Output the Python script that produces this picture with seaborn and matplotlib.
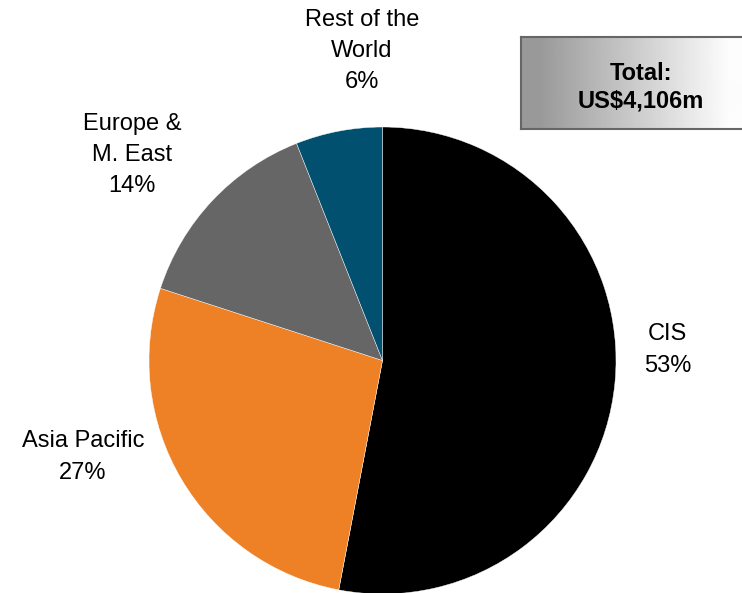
import numpy as np
import matplotlib
matplotlib.use("Agg")
import matplotlib.pyplot as plt
import seaborn as sns

# Revenue split by region (share of total, %)
regions = ["CIS", "Asia Pacific", "Europe &\nM. East", "Rest of the\nWorld"]
shares = [53, 27, 14, 6]
colors = ["#000000", "#EE8126", "#666666", "#01506F"]
total_label = "Total:\nUS$4,106m"

sns.set_theme(style="white")
plt.rcParams["font.family"] = ["Liberation Sans", "DejaVu Sans"]

W, H, DPI = 742, 593, 100
fig = plt.figure(figsize=(W / DPI, H / DPI), dpi=DPI)
fig.patch.set_facecolor("white")

# Pie axes spanning the whole figure; limits chosen so 1 data unit = pie radius
cx, cy, r = 382.5, 360.5, 233.5
ax = fig.add_axes([0, 0, 1, 1])
wedges, _ = ax.pie(
    shares,
    colors=colors,
    startangle=90,
    counterclock=False,
    radius=1.0,
    center=(0, 0),
    wedgeprops=dict(edgecolor="white", linewidth=0.3),
)
ax.set_aspect("auto")
ax.set_xlim(-cx / r, (W - cx) / r)
ax.set_ylim(-(H - cy) / r, cy / r)
ax.axis("off")

# Category labels with percentages
label_pos = {
    "CIS": (1.222, 0.045),
    "Asia Pacific": (-1.283, -0.413),
    "Europe &\nM. East": (-1.073, 0.880),
    "Rest of the\nWorld": (-0.088, 1.326),
}
for name, val in zip(regions, shares):
    x, y = label_pos[name]
    ax.text(x, y, f"{name}\n{val}%", ha="center", va="center",
            fontsize=17, color="#000000", linespacing=1.55)

# Total box with horizontal grey-to-white gradient
bx0, by0, bx1, by1 = 521, 37, 745, 129
bax = fig.add_axes([bx0 / W, 1 - by1 / H, (bx1 - bx0) / W, (by1 - by0) / H])
t = np.linspace(0, 1, 256)
grad = 0.60 + 0.39 * np.clip((t - 0.08) / 0.85, 0, 1)
bax.imshow(grad[None, :], cmap="gray", vmin=0, vmax=1, aspect="auto",
           extent=[0, 1, 0, 1])
bax.set_xlim(0, 1)
bax.set_ylim(0, 1)
bax.set_xticks([])
bax.set_yticks([])
for s in bax.spines.values():
    s.set_visible(True)
    s.set_color("#666666")
    s.set_linewidth(1.5)
bax.text((641 - bx0) / (bx1 - bx0), 0.45, total_label, ha="center", va="center",
         fontsize=17, fontweight="bold", color="#000000", linespacing=1.25)

fig.savefig("out.png", dpi=DPI, facecolor="white")
